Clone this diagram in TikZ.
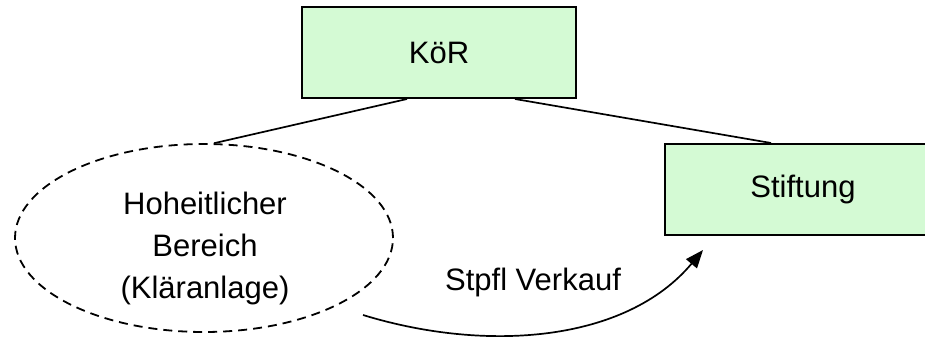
\documentclass[tikz,border=0pt]{standalone}
\usepackage{fontspec}
\setmainfont{Liberation Sans}
\usetikzlibrary{shapes.geometric,arrows.meta}
\definecolor{boxgreen}{RGB}{212,250,212}
\tikzset{
  greenbox/.style={draw=black, line width=2pt, fill=boxgreen, inner sep=0pt},
  lbl/.style={font=\fontsize{31}{42}\selectfont, align=center, inner sep=0pt},
  conn/.style={line width=1.7pt, draw=black},
  dashell/.style={ellipse, draw=black, line width=1.8pt, dash pattern=on 9pt off 6pt, minimum width=378pt, minimum height=188pt, inner sep=0pt}
}
\begin{document}
\begin{tikzpicture}[x=1pt,y=1pt]
\useasboundingbox (0,0) rectangle (925,340);
\clip (0,0) rectangle (925,340);
% boxes
\node[greenbox, minimum width=274pt, minimum height=91pt] (kor) at (439,287.5) {};
\node[lbl] (kort) at (439,287.5) {KöR};
\node[greenbox, minimum width=320pt, minimum height=91pt] (stift) at (825,150.5) {};
\node[lbl] (stiftt) at (803,150.5) {Stiftung};
% ellipse
\node[dashell] (ell) at (204,102) {};
\node[lbl] (ellt) at (205,92) {Hoheitlicher\\Bereich\\(Kläranlage)};
% connectors
\draw[conn] ([xshift=-32pt]kor.south) -- (ell.84.5);
\draw[conn] ([xshift=76pt]kor.south) -- ([xshift=107pt]stift.north west);
% arrow
\coordinate (as) at (363,25);
\coordinate (ae) at (703,90);
\draw[conn, -{Triangle[length=18pt,width=14pt]}] (as) .. controls (487,-13) and (626,-2) .. (ae);
\node[lbl] (sv) at (533,58) {Stpfl Verkauf};
\end{tikzpicture}
\end{document}
